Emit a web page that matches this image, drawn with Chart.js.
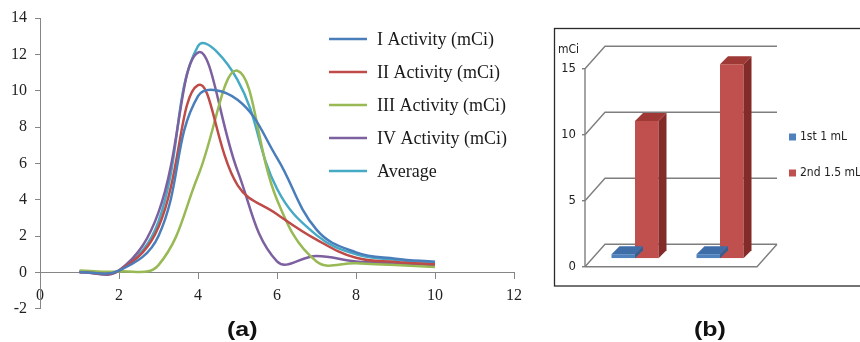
<!DOCTYPE html>
<html>
<head>
<meta charset="utf-8">
<script src="https://cdn.jsdelivr.net/npm/chart.js@4.4.0/dist/chart.umd.min.js"></script>
<style>
  html, body { margin: 0; padding: 0; background: #fff; width: 860px; height: 342px; overflow: hidden; }
  canvas { position: absolute; left: 0; top: 0; }
  #batches { filter: blur(0.45px); }
  .cap { position: absolute; top: 318px; font: bold 20px "Liberation Sans", Arial, sans-serif; color: #111;
         transform: scaleX(1.25); transform-origin: 0 0; }
</style>
</head>
<body>
<canvas id="elution" width="860" height="342"></canvas>
<canvas id="batches" width="860" height="342"></canvas>
<div class="cap" style="left:227px">(a)</div>
<div class="cap" style="left:694px">(b)</div>
<script>
// ---- (a) elution profiles ----
const elutionVolume = [1, 2, 3, 4, 5, 6, 7, 8, 9, 10];
const activityI   = [0.0, 0.1, 2.0, 9.7, 9.5, 6.3, 2.35, 1.1, 0.75, 0.58];
const activityII  = [0.0, 0.1, 2.5, 10.3, 4.8, 3.2, 1.8, 0.8, 0.57, 0.45];
const activityIII = [0.1, 0.05, 0.4, 5.3, 11.1, 4.0, 0.6, 0.5, 0.4, 0.3];
const activityIV  = [0.0, 0.1, 3.3, 12.1, 5.6, 0.6, 0.9, 0.6, 0.5, 0.4];
const activityAvg = [0.05, 0.1, 2.8, 12.45, 10.6, 4.6, 2.05, 1.0, 0.7, 0.55];
const seriesNames = ['I Activity (mCi)', 'II Activity (mCi)', 'III Activity (mCi)', 'IV Activity (mCi)', 'Average'];
const seriesColors = ['#4A7EBB', '#BE4B48', '#98B954', '#7D60A0', '#46AAC5'];

// ---- (b) activity per batch ----
const batchLabels = ['1', '2'];
const firstMl  = [0.3, 0.3];
const secondMl = [10.4, 14.7];
const batchNames = ['1st 1 mL', '2nd 1.5 mL'];
const batchColors = ['#4F81BD', '#C0504D'];
const batchSide = ['#365F91', '#832B29'];
const batchTop = ['#3E6DA8', '#9E3936'];

const axisGray = '#868686';
const serif = '"Liberation Serif", "Times New Roman", serif';
const narrow = '"Liberation Sans Narrow", "DejaVu Sans Condensed", sans-serif';

const seriesValues = [activityI, activityII, activityIII, activityIV, activityAvg];

// legend drawn inside the plot area
const lineLegend = {
  id: 'lineLegend',
  afterDraw(chart) {
    const ctx = chart.ctx;
    ctx.save();
    ctx.font = '18px ' + serif;
    ctx.textBaseline = 'middle';
    chart.data.datasets.forEach((ds, i) => {
      const y = 39 + i * 33;
      ctx.strokeStyle = ds.borderColor;
      ctx.lineWidth = 2.5;
      ctx.beginPath();
      ctx.moveTo(329, y);
      ctx.lineTo(367, y);
      ctx.stroke();
      ctx.fillStyle = '#1a1a1a';
      ctx.fillText(ds.label, 377, y + 1);
    });
    ctx.restore();
  }
};

new Chart(document.getElementById('elution'), {
  type: 'line',
  data: {
    datasets: seriesNames.map((name, i) => ({
      label: name,
      data: elutionVolume.map((x, j) => ({ x: x, y: seriesValues[i][j] })),
      borderColor: seriesColors[i],
      backgroundColor: seriesColors[i],
      borderWidth: 2.5,
      pointRadius: 0,
      tension: 0.4,
      fill: false
    }))
  },
  options: {
    responsive: false,
    animation: false,
    events: [],
    layout: { padding: { left: 0, top: 18, right: 346, bottom: 33.3 } },
    plugins: { legend: { display: false }, tooltip: { enabled: false } },
    scales: {
      x: {
        type: 'linear',
        position: { y: 0 },
        min: 0, max: 12,
        ticks: { stepSize: 2, color: '#222', font: { family: serif, size: 16 }, padding: 8 },
        grid: { drawOnChartArea: false, drawTicks: true, tickLength: 6, color: axisGray },
        border: { color: axisGray, width: 1 }
      },
      y: {
        min: -2, max: 14,
        ticks: { stepSize: 2, color: '#222', font: { family: serif, size: 16 }, padding: 8 },
        grid: { drawOnChartArea: false, drawTicks: true, tickLength: 5, color: axisGray },
        border: { color: axisGray, width: 1 },
        afterFit(s) { s.width = 40; }
      }
    }
  },
  plugins: [lineLegend]
});

// ---- 3D look for the bar panel ----
const frontOff = { x: -7.5, y: 8.4 };  // front edge of the floor relative to the bar plane
const backOff = { x: 12.5, y: -14 };   // back wall relative to the bar plane
const barDepth = 8;

const box3d = {
  id: 'box3d',
  beforeDatasetsDraw(chart) {
    const ctx = chart.ctx;
    const a = chart.chartArea;
    const ys = chart.scales.y;
    ctx.save();
    // frame around the panel
    ctx.strokeStyle = '#2a2a2a';
    ctx.lineWidth = 1.3;
    ctx.strokeRect(554.5, 28.5, 330, 257.5);

    ctx.strokeStyle = '#7e7e7e';
    ctx.lineWidth = 1.4;
    const y0 = ys.getPixelForValue(0);
    const xr = a.right + 2;
    // floor
    ctx.beginPath();
    ctx.moveTo(a.left + frontOff.x, y0 + frontOff.y);
    ctx.lineTo(xr + frontOff.x, y0 + frontOff.y);
    ctx.lineTo(xr + backOff.x, y0 + backOff.y);
    ctx.stroke();
    // wall lines at each tick
    ys.ticks.forEach(t => {
      const y = ys.getPixelForValue(t.value);
      ctx.beginPath();
      ctx.moveTo(a.left + frontOff.x, y + frontOff.y);
      ctx.lineTo(a.left + backOff.x, y + backOff.y);
      ctx.lineTo(xr + backOff.x, y + backOff.y);
      ctx.stroke();
      ctx.beginPath();
      ctx.moveTo(a.left + frontOff.x - 3, y + frontOff.y);
      ctx.lineTo(a.left + frontOff.x, y + frontOff.y);
      ctx.stroke();
    });
    // front vertical axis
    ctx.beginPath();
    ctx.moveTo(a.left + frontOff.x, y0 + frontOff.y);
    ctx.lineTo(a.left + frontOff.x, ys.getPixelForValue(ys.max) + frontOff.y);
    ctx.stroke();

    // unit label
    ctx.fillStyle = '#222';
    ctx.font = '12px ' + narrow;
    ctx.textBaseline = 'middle';
    ctx.fillText('mCi', 558, 50);
    ctx.restore();
  },
  afterDatasetDraw(chart, args) {
    const ctx = chart.ctx;
    const i = args.index;
    const d = barDepth;
    ctx.save();
    args.meta.data.forEach(bar => {
      const p = bar.getProps(['x', 'y', 'base', 'width'], true);
      const l = p.x - p.width / 2, r = p.x + p.width / 2;
      // right side face
      ctx.fillStyle = batchSide[i];
      ctx.beginPath();
      ctx.moveTo(r, p.y);
      ctx.lineTo(r + d, p.y - d);
      ctx.lineTo(r + d, p.base - d);
      ctx.lineTo(r, p.base);
      ctx.closePath();
      ctx.fill();
      // top face
      ctx.fillStyle = batchTop[i];
      ctx.beginPath();
      ctx.moveTo(l, p.y);
      ctx.lineTo(l + d, p.y - d);
      ctx.lineTo(r + d, p.y - d);
      ctx.lineTo(r, p.y);
      ctx.closePath();
      ctx.fill();
    });
    ctx.restore();
  },
  afterDraw(chart) {
    const ctx = chart.ctx;
    ctx.save();
    ctx.font = '12px ' + narrow;
    ctx.textBaseline = 'middle';
    chart.data.datasets.forEach((ds, i) => {
      const y = 137 + i * 36;
      ctx.fillStyle = ds.backgroundColor;
      ctx.fillRect(789, y - 3.5, 7, 7);
      ctx.fillStyle = '#222';
      ctx.fillText(ds.label, 800, y);
    });
    ctx.restore();
  }
};

new Chart(document.getElementById('batches'), {
  type: 'bar',
  data: {
    labels: batchLabels,
    datasets: [
      { label: batchNames[0], data: firstMl, backgroundColor: batchColors[0] },
      { label: batchNames[1], data: secondMl, backgroundColor: batchColors[1] }
    ]
  },
  options: {
    responsive: false,
    animation: false,
    events: [],
    datasets: { bar: { barPercentage: 1, categoryPercentage: 0.553 } },
    layout: { padding: { left: 562.5, right: 97.5, top: 60.3, bottom: 83.7 } },
    plugins: { legend: { display: false }, tooltip: { enabled: false } },
    scales: {
      x: { display: false },
      y: {
        min: 0, max: 15,
        ticks: { stepSize: 5, padding: 16.5, labelOffset: 8.4, color: '#222', font: { family: narrow, size: 13 } },
        grid: { display: false, drawTicks: false },
        border: { display: false },
        afterFit(s) { s.width = 30; }
      }
    }
  },
  plugins: [box3d]
});
</script>
</body>
</html>
